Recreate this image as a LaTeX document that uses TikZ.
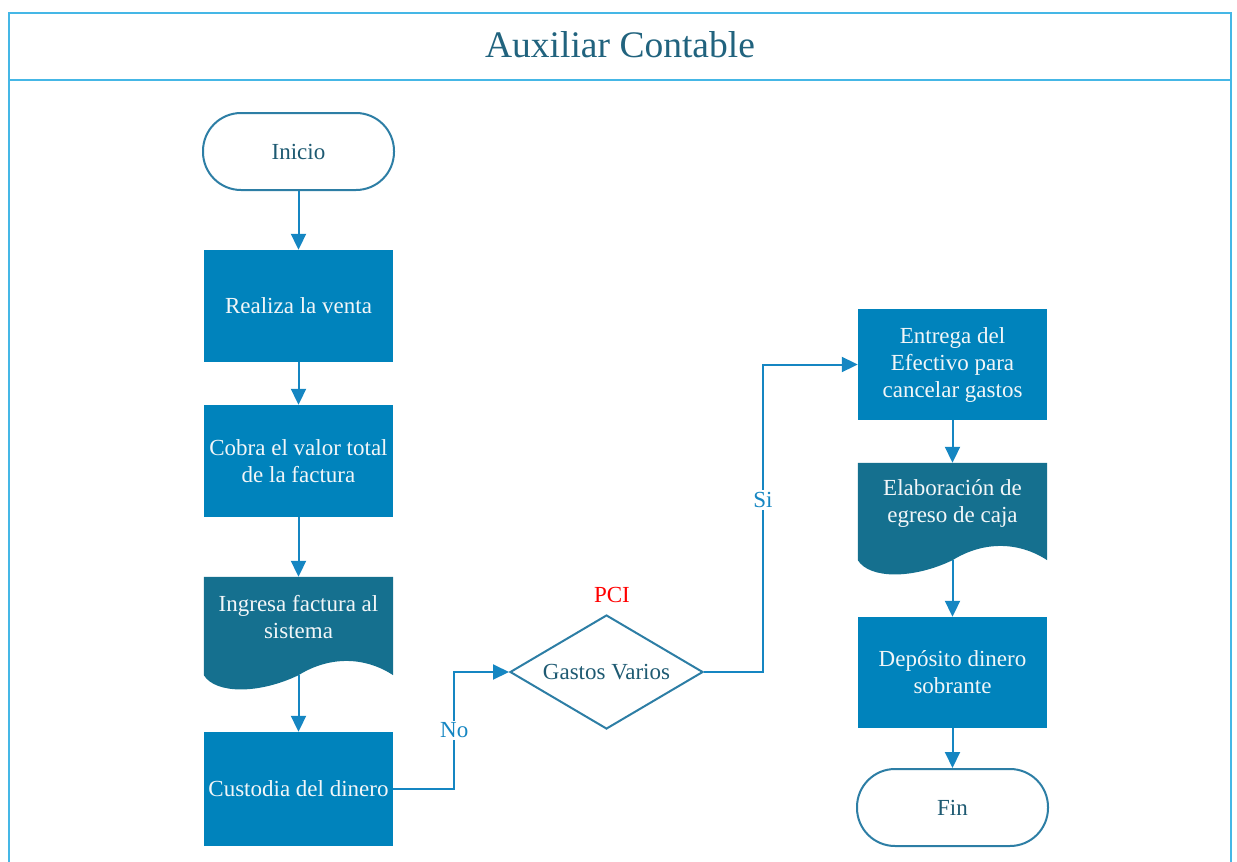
\documentclass[tikz,border=0pt]{standalone}
\usepackage{fontspec}
\setmainfont{Liberation Serif}
\usetikzlibrary{shapes.geometric,arrows.meta,calc}

\definecolor{procfill}{HTML}{0083BC}
\definecolor{docfill}{HTML}{15708F}
\definecolor{flowline}{HTML}{1586C2}
\definecolor{framecol}{HTML}{45B7E6}
\definecolor{titlecol}{HTML}{21637E}
\definecolor{termline}{HTML}{2D7EA5}
\definecolor{darktext}{HTML}{1E5A72}
\definecolor{boxtext}{HTML}{F2F6F8}

% bottom-waved document symbol drawn around a named node
\newcommand\docwave[1]{%
  \fill[docfill] (#1.north west) -- (#1.north east) -- (#1.south east)
    .. controls +(-29,-19) and +(30.5,-19) .. (#1.south)
    .. controls +(-39.5,19) and +(12,19) .. (#1.south west) -- cycle;}

\begin{document}
\begin{tikzpicture}[x=1pt,y=-1pt,
  txt/.style={font=\fontsize{23}{27}\selectfont, align=center},
  terminal/.style={txt, draw=termline, line width=2pt, fill=white,
    text=darktext, rectangle, rounded corners=38pt,
    minimum width=191pt, minimum height=77pt, inner sep=0pt},
  process/.style={txt, fill=procfill, text=boxtext, rectangle,
    minimum width=189pt, minimum height=112pt, inner sep=0pt},
  docbox/.style={rectangle, minimum width=189pt, minimum height=98pt, inner sep=0pt},
  doctext/.style={txt, text=boxtext},
  decision/.style={txt, diamond, draw=termline, line width=2pt, text=darktext,
    aspect=1.69, minimum width=193pt, minimum height=114pt, inner sep=0pt},
  flow/.style={draw=flowline, line width=2pt, -{Triangle[width=15pt,length=16pt]}},
  branch/.style={txt, text=flowline, fill=white, inner sep=2pt},
  frame/.style={draw=framecol, line width=2pt}
]
\useasboundingbox (0,0) rectangle (1237,862);

% swimlane frame and header
\begin{scope}
  \clip (0,0) rectangle (1237,862);
  \draw[frame] (9,880) -- (9,13) -- (1231,13) -- (1231,880);
  \draw[frame] (9,80) -- (1231,80);
\end{scope}
\node[font=\fontsize{37.5}{40}\selectfont, text=titlecol] (title) at (620,45) {Auxiliar Contable};

% left column
\node[terminal] (ini) at (298.5,151.5) {Inicio};
\node[process] (ven) at (298.5,306) {Realiza la venta};
\node[process] (cob) at (298.5,461) {Cobra el valor total\\de la factura};
\node[docbox] (ing) at (298.5,626) {};
\docwave{ing}
\node[doctext] (ingt) at ([yshift=8.5pt]ing.center) {Ingresa factura al\\sistema};
\node[process, minimum height=114pt] (cus) at (298.5,789) {Custodia del dinero};

% decision
\node[decision] (dia) at (606.5,672) {Gastos Varios};
\node[txt, text=red] (pci) at (612,595) {PCI};

% right column
\node[process, minimum height=111pt] (ent) at (952.5,364.5) {Entrega del\\Efectivo para\\cancelar gastos};
\node[docbox, minimum height=97pt] (ela) at (952.5,511.5) {};
\docwave{ela}
\node[doctext] (elat) at ([yshift=8.5pt]ela.center) {Elaboración de\\egreso de caja};
\node[process, minimum height=111pt] (dep) at (952.5,672.5) {Depósito dinero\\sobrante};
\node[terminal] (fin) at (952.5,807.5) {Fin};

% connectors
\draw[flow] (ini.south) -- (ven.north);
\draw[flow] (ven.south) -- (cob.north);
\draw[flow] (cob.south) -- (ing.north);
\draw[flow] (ing.south) -- (cus.north);
\draw[flow] (cus.east) -- ++(61,0) |- node[branch, pos=0.25] {No} (dia.west);
\draw[flow] (dia.east) -- ++(59,0) |- node[branch, pos=0.28] {Si} (ent.west);
\draw[flow] (ent.south) -- (ela.north);
\draw[flow] (ela.south) -- (dep.north);
\draw[flow] (dep.south) -- (fin.north);
\end{tikzpicture}
\end{document}
